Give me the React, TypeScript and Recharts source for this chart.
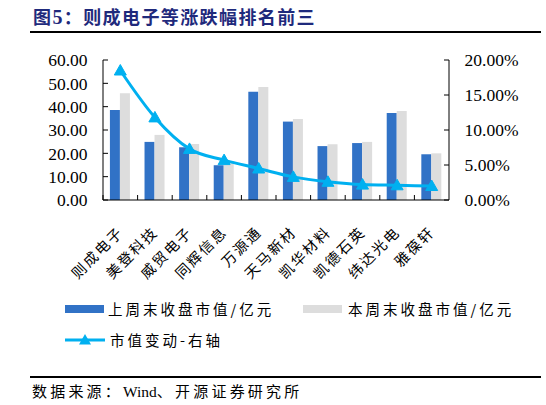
import React from 'react';
import { ComposedChart, Bar, Line, XAxis, YAxis } from 'recharts';

const categories = ['则成电子', '美登科技', '威贸电子', '同辉信息', '万源通', '天马新材', '凯华材料', '凯德石英', '纬达光电', '雅葆轩'];
const lastWeekCap = [38.6, 24.9, 22.6, 14.9, 46.4, 33.6, 23.1, 24.4, 37.3, 19.6];
const thisWeekCap = [45.7, 27.9, 24.0, 16.6, 48.4, 34.7, 23.9, 24.9, 38.1, 20.0];
const capChangePct = [18.5, 11.8, 7.3, 5.7, 4.5, 3.3, 2.6, 2.2, 2.1, 2.0];
const leftTicks = [0, 10, 20, 30, 40, 50, 60];
const rightTicks = [0, 5, 10, 15, 20];

const seriesNames = ['上周末收盘市值/亿元', '本周末收盘市值/亿元', '市值变动-右轴'];
const titleParts = ['图', '5', '：则成电子等涨跌幅排名前三'];
const sourceParts = ['数据来源：', 'Wind', '、开源证券研究所'];

const BLUE = '#3172C6';
const GRAY = '#DDDDDD';
const CYAN = '#00B0F0';
const NAVY = '#1F2A7C';
const CJK = '"Noto Sans CJK SC", sans-serif';
const SERIF = '"Liberation Serif", "Times New Roman", serif';

const data = categories.map((name, i) => ({
  name,
  last: lastWeekCap[i],
  cur: thisWeekCap[i],
  chg: capChangePct[i],
}));

const Triangle = (props: any) => {
  const { cx, cy } = props;
  if (cx == null || cy == null) return null;
  return (
    <polygon
      points={`${cx},${cy - 6} ${cx - 6},${cy + 4.5} ${cx + 6},${cy + 4.5}`}
      fill={CYAN}
      stroke={CYAN}
      strokeWidth={1}
    />
  );
};

const CatTick = (props: any) => {
  const { x, y, payload } = props;
  const off = payload && payload.offset != null ? payload.offset : 17.3;
  const ax = x + 4;
  const ay = y + 33;
  return (
    <g>
      <line x1={x - off} x2={x - off} y1={y} y2={y - 5} stroke="#000" strokeWidth={1} />
      <text
        x={ax}
        y={ay}
        transform={`rotate(-45, ${ax}, ${ay})`}
        textAnchor="end"
        fontFamily={CJK}
        fontSize={14.5}
        letterSpacing={2}
        fill="#000"
      >
        {payload.value}
      </text>
    </g>
  );
};

const LegendIconLine = () => (
  <svg width={40} height={14} style={{ display: 'block' }}>
    <line x1={0} x2={40} y1={7} y2={7} stroke={CYAN} strokeWidth={3} />
    <polygon points="20,1 14,11.5 26,11.5" fill={CYAN} />
  </svg>
);

export default function App() {
  return (
    <div style={{ position: 'absolute', left: 0, top: 0, width: 546, height: 405, background: '#fff', overflow: 'hidden' }}>
      <div
        style={{
          position: 'absolute',
          left: 33,
          top: 4,
          fontFamily: CJK,
          fontWeight: 700,
          fontSize: 18,
          letterSpacing: 1.4,
          color: NAVY,
          lineHeight: '24px',
          whiteSpace: 'nowrap',
        }}
      >
        {titleParts[0]}
        <span style={{ fontFamily: SERIF, fontSize: 20 }}>{titleParts[1]}</span>
        {titleParts[2]}
      </div>
      <div style={{ position: 'absolute', left: 30, top: 31, width: 511, height: 1.5, background: '#000' }} />

      <div style={{ position: 'absolute', left: 0, top: 0 }}>
        <ComposedChart
          width={546}
          height={405}
          data={data}
          margin={{ top: 60, right: 17, bottom: 125, left: 43 }}
          barCategoryGap="20%"
          barGap={0}
        >
          <XAxis
            dataKey="name"
            xAxisId="x"
            height={80}
            interval={0}
            tickLine={false}
            tickSize={0}
            tickMargin={0}
            axisLine={{ stroke: '#000', strokeWidth: 1 }}
            tick={<CatTick />}
          />
          <YAxis
            yAxisId="left"
            orientation="left"
            width={60}
            domain={[0, 60]}
            ticks={leftTicks}
            interval={0}
            tickSize={-5}
            tickMargin={20.5}
            axisLine={{ stroke: '#000', strokeWidth: 1 }}
            tickLine={{ stroke: '#000', strokeWidth: 1 }}
            tick={{ fill: '#000', fontSize: 17.5, fontFamily: SERIF }}
            tickFormatter={(v: number) => v.toFixed(2)}
          />
          <YAxis
            yAxisId="right"
            orientation="right"
            width={80}
            domain={[0, 20]}
            ticks={rightTicks}
            interval={0}
            tickSize={-5}
            tickMargin={20.5}
            axisLine={{ stroke: '#000', strokeWidth: 1 }}
            tickLine={{ stroke: '#000', strokeWidth: 1 }}
            tick={{ fill: '#000', fontSize: 17.5, fontFamily: SERIF }}
            tickFormatter={(v: number) => v.toFixed(2) + '%'}
          />
          <Bar dataKey="last" name={seriesNames[0]} xAxisId="x" yAxisId="left" fill={BLUE} isAnimationActive={false} />
          <Bar dataKey="cur" name={seriesNames[1]} xAxisId="x" yAxisId="left" fill={GRAY} isAnimationActive={false} />
          <Line
            dataKey="chg"
            name={seriesNames[2]}
            xAxisId="x"
            yAxisId="right"
            type="monotone"
            stroke={CYAN}
            strokeWidth={3}
            dot={<Triangle />}
            activeDot={false}
            isAnimationActive={false}
          />
        </ComposedChart>
      </div>

      <div
        style={{
          position: 'absolute',
          left: 65,
          top: 299,
          fontFamily: CJK,
          fontSize: 14.5,
          letterSpacing: 3,
          color: '#000',
          lineHeight: '20px',
        }}
      >
        <div style={{ position: 'absolute', left: 0, top: 0, display: 'flex', alignItems: 'center', whiteSpace: 'nowrap' }}>
          <div style={{ width: 39, height: 8, background: BLUE, marginRight: 4 }} />
          <span>{seriesNames[0]}</span>
        </div>
        <div style={{ position: 'absolute', left: 238, top: 0, display: 'flex', alignItems: 'center', whiteSpace: 'nowrap' }}>
          <div style={{ width: 39, height: 8, background: GRAY, marginRight: 6 }} />
          <span>{seriesNames[1]}</span>
        </div>
        <div style={{ position: 'absolute', left: 0, top: 31, display: 'flex', alignItems: 'center', whiteSpace: 'nowrap' }}>
          <LegendIconLine />
          <span style={{ marginLeft: 5 }}>{seriesNames[2]}</span>
        </div>
      </div>

      <div style={{ position: 'absolute', left: 30, top: 376, width: 511, height: 1.5, background: '#000' }} />
      <div
        style={{
          position: 'absolute',
          left: 32,
          top: 381,
          fontFamily: CJK,
          fontSize: 15,
          letterSpacing: 3.2,
          color: '#000',
          lineHeight: '20px',
          whiteSpace: 'nowrap',
        }}
      >
        {sourceParts[0]}
        <span style={{ fontFamily: SERIF, fontSize: 15.5, letterSpacing: 0 }}>{sourceParts[1]}</span>
        {sourceParts[2]}
      </div>
    </div>
  );
}
